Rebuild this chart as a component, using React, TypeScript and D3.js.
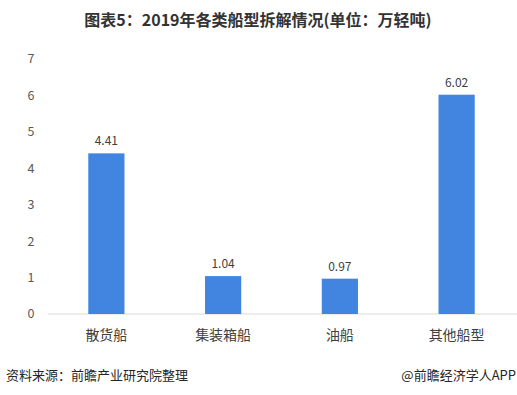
import React from 'react'
import * as d3 from 'd3'

const categories = ['散货船', '集装箱船', '油船', '其他船型']
const values = [4.41, 1.04, 0.97, 6.02]
const yTicks = [0, 1, 2, 3, 4, 5, 6, 7]

const W = 517
const H = 395

const App = () => {
  const x = d3.scaleBand().domain(categories).range([48, 515]).paddingInner(0.69).paddingOuter(0.345)
  const y = d3.scaleLinear().domain([0, 7]).range([314, 59])
  const font = '"Microsoft YaHei", "Noto Sans CJK SC", sans-serif'

  return (
    <svg width={W} height={H} style={{ position: 'absolute', left: 0, top: 0 }} fontFamily={font}>
      <rect width={W} height={H} fill="#fff" />
      <text x={258} y={26} textAnchor="middle" fontSize={16} fontWeight="bold" fill="#333">
        图表5：2019年各类船型拆解情况(单位：万轻吨)
      </text>
      {yTicks.map((t) => (
        <text key={t} x={31} y={y(t)} dy="0.35em" textAnchor="middle" fontSize={12.5} fill="#595959">
          {t}
        </text>
      ))}
      <line x1={48} x2={517} y1={y(0)} y2={y(0)} stroke="#d9d9d9" strokeWidth={1} />
      {categories.map((c, i) => (
        <g key={c}>
          <rect x={x(c)} y={y(values[i])} width={x.bandwidth()} height={y(0) - y(values[i])} fill="#4285e1" />
          <text x={x(c)! + x.bandwidth() / 2} y={y(values[i]) - 8} textAnchor="middle" fontSize={12} fill="#404040">
            {values[i].toFixed(2)}
          </text>
          <text x={x(c)! + x.bandwidth() / 2} y={340} textAnchor="middle" fontSize={14} fill="#404040">
            {c}
          </text>
        </g>
      ))}
      <text x={6} y={380} fontSize={13} fill="#262626">
        资料来源：前瞻产业研究院整理
      </text>
      <text x={516} y={380} textAnchor="end" fontSize={13} fill="#262626">
        @前瞻经济学人APP
      </text>
    </svg>
  )
}

export default App
